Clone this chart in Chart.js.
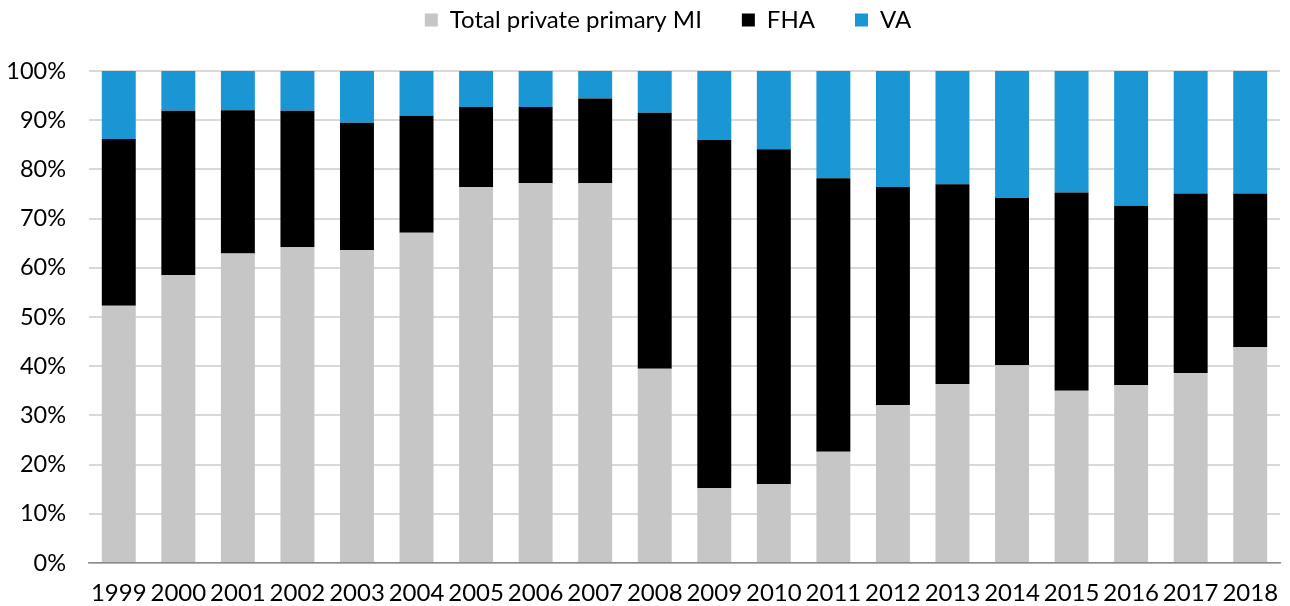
<!DOCTYPE html>
<html>
<head>
<meta charset="utf-8">
<script src="https://cdn.jsdelivr.net/npm/chart.js@4/dist/chart.umd.min.js"></script>
<style>
  html, body { margin: 0; padding: 0; background: #fff; }
  #wrap { width: 1290px; height: 606px; position: relative; }
</style>
</head>
<body>
<div id="wrap"><canvas id="chart"></canvas></div>
<script>
// Share of insured mortgage originations by insurer type (%)
const years = ["1999","2000","2001","2002","2003","2004","2005","2006","2007","2008",
               "2009","2010","2011","2012","2013","2014","2015","2016","2017","2018"];
const privateMI = [52.3, 58.5, 62.9, 64.2, 63.6, 67.1, 76.4, 77.2, 77.2, 39.5,
                   15.2, 16.0, 22.6, 32.1, 36.4, 40.2, 35.0, 36.2, 38.6, 43.9];
const fha       = [33.9, 33.4, 29.1, 27.7, 25.9, 23.8, 16.3, 15.5, 17.2, 52.0,
                   70.8, 68.1, 55.6, 44.3, 40.6, 34.0, 40.3, 36.4, 36.5, 31.2];
const va        = [13.8,  8.1,  8.0,  8.1, 10.5,  9.1,  7.3,  7.3,  5.6,  8.5,
                   14.0, 15.9, 21.8, 23.6, 23.0, 25.8, 24.7, 27.4, 24.9, 24.9];
const yTicks = [0, 10, 20, 30, 40, 50, 60, 70, 80, 90, 100];

const FONT = "Lato, 'Open Sans', sans-serif";
const LEGEND_HEIGHT = 103;
const LEGEND_SHIFT = 24;

// Wide gaps between legend items while keeping the legend block compact
const legendLayout = {
  id: "legendLayout",
  beforeInit(chart) {
    const legend = chart.legend;
    const fit = legend.fit;
    legend.fit = function () {
      fit.call(this);
      this.height = LEGEND_HEIGHT;
    };
    const draw = legend.draw;
    legend.draw = function () {
      const ctx = this.ctx;
      ctx.save();
      ctx.translate(LEGEND_SHIFT, 0);
      draw.call(this);
      ctx.restore();
    };
  }
};

new Chart(document.getElementById("chart"), {
  type: "bar",
  data: {
    labels: years,
    datasets: [
      { label: "Total private primary MI", data: privateMI, backgroundColor: "#c6c6c6" },
      { label: "FHA", data: fha, backgroundColor: "#000000" },
      { label: "VA", data: va, backgroundColor: "#1996d3" }
    ]
  },
  plugins: [legendLayout],
  options: {
    responsive: true,
    maintainAspectRatio: false,
    animation: false,
    layout: { padding: { left: 8, right: 10, top: -32, bottom: -17 } },
    datasets: { bar: { barPercentage: 0.57, categoryPercentage: 1.0 } },
    plugins: {
      tooltip: { enabled: false },
      legend: {
        position: "top",
        labels: {
          font: { family: FONT, size: 24 },
          color: "#000",
          boxWidth: 13,
          boxHeight: 13,
          padding: 40
        }
      }
    },
    scales: {
      x: {
        stacked: true,
        afterFit: (axis) => { axis.paddingLeft = 0; axis.paddingRight = 0; },
        grid: { display: false, drawTicks: false },
        border: { color: "#8c8c8c", width: 1.5 },
        ticks: { font: { family: FONT, size: 24, lineHeight: 1.0 }, color: "#000", padding: 18, maxRotation: 0, autoSkip: false }
      },
      y: {
        stacked: true,
        min: 0,
        max: 100,
        afterBuildTicks: (axis) => { axis.ticks = yTicks.map(v => ({ value: v })); },
        afterFit: (axis) => { axis.width = 81; },
        grid: { color: "#d9d9d9", lineWidth: 2, drawTicks: false },
        border: { display: false },
        ticks: {
          font: { family: FONT, size: 23.5 },
          color: "#000",
          padding: 23,
          callback: (v) => v + "%"
        }
      }
    }
  }
});
</script>
</body>
</html>
